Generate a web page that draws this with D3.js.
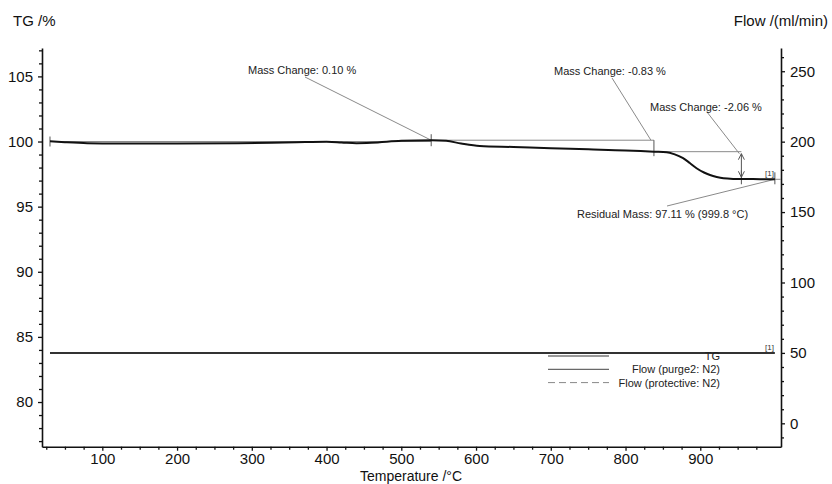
<!DOCTYPE html>
<html>
<head>
<meta charset="utf-8">
<script src="https://cdn.jsdelivr.net/npm/d3@7"></script>
<style>
  html, body { margin: 0; padding: 0; background: #fff; }
  svg { display: block; font-family: "Liberation Sans", Arial, sans-serif; }
</style>
</head>
<body>
<svg id="chart" width="832" height="484"></svg>
<script>
// ---------------- DATA ----------------
const tgTemperature = [30, 50, 80, 120, 200, 280, 360, 400, 420, 440, 460, 500, 540, 560, 580, 605, 650, 700, 750, 800, 838, 855, 865, 877, 886, 895, 905, 913, 922, 931, 945, 955, 980, 999.8];
const tgMass        = [100.02, 99.95, 99.87, 99.84, 99.85, 99.87, 99.95, 99.98, 99.93, 99.87, 99.9, 100.05, 100.1, 100.05, 99.85, 99.66, 99.58, 99.48, 99.4, 99.32, 99.22, 99.18, 99.03, 98.72, 98.35, 97.95, 97.62, 97.43, 97.28, 97.18, 97.13, 97.12, 97.11, 97.1];
const flowTemperature = [30, 999.8];
const flowPurge2 = [50, 50];

const xTickLabels = [100, 200, 300, 400, 500, 600, 700, 800, 900];
const tgTickLabels = [80, 85, 90, 95, 100, 105];
const flowTickLabels = [0, 50, 100, 150, 200, 250];

const legendLabels = ["TG", "Flow (purge2: N2)", "Flow (protective: N2)"];

// mass-change evaluation points (temperature, TG level)
const stepTemperatures = [30, 540, 838, 955];
const stepLevels = [100.0, 100.1, 99.22, 97.12];
const massChangeTexts = ["Mass Change: 0.10 %", "Mass Change: -0.83 %", "Mass Change: -2.06 %"];
const residualText = "Residual Mass: 97.11 % (999.8 °C)";
const residualPoint = [999.8, 97.1];

// ---------------- LAYOUT ----------------
const svg = d3.select("#chart");
const pLeft = 42, pRight = 781, pTop = 48, pBottom = 446.7;

const x = d3.scaleLinear().domain([19.3, 1008]).range([pLeft, pRight]);
const yL = d3.scaleLinear().domain([76.57, 107.18]).range([pBottom, pTop]);
const yR = d3.scaleLinear().domain([-16.6, 266.5]).range([pBottom, pTop]);

const fontSize = 15;
const axisColor = "#111";

function styleAxis(g) {
  g.selectAll(".domain").attr("stroke", axisColor).attr("stroke-width", 1.6);
  g.selectAll(".tick line").attr("stroke", axisColor).attr("stroke-width", 1.3);
  g.selectAll("text").attr("fill", "#111").style("font-size", fontSize + "px")
    .style("font-family", "'Liberation Sans', Arial, sans-serif");
}
function styleMinor(g) {
  g.select(".domain").remove();
  g.selectAll("line").attr("stroke", axisColor).attr("stroke-width", 1.3);
}

// bottom axis
const gx = svg.append("g").attr("transform", `translate(0,${pBottom})`)
  .call(d3.axisBottom(x).tickValues(xTickLabels).tickSize(4).tickPadding(3).tickSizeOuter(0));
styleAxis(gx);
svg.append("g").attr("transform", `translate(0,${pBottom})`)
  .call(d3.axisBottom(x).tickValues(d3.range(25, 1001, 25).filter(v => v % 100 !== 0))
    .tickSize(3).tickFormat("").tickSizeOuter(0))
  .call(styleMinor);

// left axis
const gl = svg.append("g").attr("transform", `translate(${pLeft},0)`)
  .call(d3.axisLeft(yL).tickValues(tgTickLabels).tickSize(4).tickPadding(5).tickSizeOuter(0));
styleAxis(gl);
svg.append("g").attr("transform", `translate(${pLeft},0)`)
  .call(d3.axisLeft(yL).tickValues(d3.range(77, 108).filter(v => v % 5 !== 0)).tickSize(3).tickFormat("").tickSizeOuter(0))
  .call(styleMinor);

// right axis
const gr = svg.append("g").attr("transform", `translate(${pRight},0)`)
  .call(d3.axisRight(yR).tickValues(flowTickLabels).tickSize(4).tickPadding(5).tickSizeOuter(0));
styleAxis(gr);
svg.append("g").attr("transform", `translate(${pRight},0)`)
  .call(d3.axisRight(yR).tickValues(d3.range(-10, 261, 10).filter(v => v % 50 !== 0)).tickSize(3).tickFormat("").tickSizeOuter(0))
  .call(styleMinor);

// axis titles
svg.append("text").attr("x", 13).attr("y", 26).text("TG /%")
  .style("font-size", fontSize + "px").attr("fill", "#111");
svg.append("text").attr("x", 828).attr("y", 26).attr("text-anchor", "end").text("Flow /(ml/min)")
  .style("font-size", fontSize + "px").attr("fill", "#111");
svg.append("text").attr("x", 411).attr("y", 481).attr("text-anchor", "middle").text("Temperature /°C")
  .style("font-size", "14px").attr("fill", "#111");

// ---------------- ANNOTATIONS ----------------
const annColor = "#8a8a8a";
const ann = svg.append("g").attr("stroke", annColor).attr("stroke-width", 1).attr("fill", "none");

// horizontal reference lines between evaluation points
for (let i = 0; i < stepTemperatures.length - 1; i++) {
  ann.append("line")
    .attr("x1", x(stepTemperatures[i])).attr("x2", x(stepTemperatures[i + 1]))
    .attr("y1", yL(stepLevels[i])).attr("y2", yL(stepLevels[i]));
}
// residual level line to the axis
ann.append("line")
  .attr("x1", x(stepTemperatures[3])).attr("x2", pRight)
  .attr("y1", yL(residualPoint[1])).attr("y2", yL(residualPoint[1]));

// vertical markers
const markerHalf = [5, 6, 8, 7];
stepTemperatures.forEach((t, i) => {
  const yc = i === 2 ? yL(stepLevels[2]) - 3.5 : (i === 3 ? yL(residualPoint[1]) - 2 : yL(stepLevels[i]));
  ann.append("line").attr("x1", x(t)).attr("x2", x(t))
    .attr("y1", yc - markerHalf[i]).attr("y2", yc + markerHalf[i]).attr("stroke", "#555");
});
ann.append("line").attr("x1", x(residualPoint[0])).attr("x2", x(residualPoint[0]))
  .attr("y1", yL(residualPoint[1]) - 7).attr("y2", yL(residualPoint[1]) + 5).attr("stroke", "#555");

// double arrow for the last mass change
{
  const ax = x(stepTemperatures[3]);
  const y1 = yL(stepLevels[2]) + 2, y2 = yL(residualPoint[1]) - 2;
  ann.append("line").attr("x1", ax).attr("x2", ax).attr("y1", y1).attr("y2", y2).attr("stroke", "#555");
  ann.append("path").attr("d", `M${ax - 3},${y1 + 6}L${ax},${y1}L${ax + 3},${y1 + 6}`).attr("stroke", "#555");
  ann.append("path").attr("d", `M${ax - 3},${y2 - 6}L${ax},${y2}L${ax + 3},${y2 - 6}`).attr("stroke", "#555");
}

// labels with leader lines (label placement in pixels)
const labelLayout = [
  { tx: 248, ty: 74, lx: 305, ly: 77, px: x(stepTemperatures[1]), py: yL(stepLevels[1]) },
  { tx: 554, ty: 75, lx: 612, ly: 78, px: x(stepTemperatures[2]) - 3, py: yL(stepLevels[1]) },
  { tx: 650, ty: 111, lx: 707, ly: 112, px: x(stepTemperatures[3]) - 2, py: yL(stepLevels[2]) + 2 }
];
massChangeTexts.forEach((t, i) => {
  const L = labelLayout[i];
  ann.append("line").attr("x1", L.lx).attr("y1", L.ly).attr("x2", L.px).attr("y2", L.py);
  svg.append("text").attr("x", L.tx).attr("y", L.ty).text(t)
    .style("font-size", "11px").attr("fill", "#222");
});
ann.append("line").attr("x1", 667).attr("y1", 206)
  .attr("x2", x(residualPoint[0])).attr("y2", yL(residualPoint[1]));
svg.append("text").attr("x", 577).attr("y", 218).text(residualText)
  .style("font-size", "11px").attr("fill", "#222");

// [1] labels
svg.append("text").attr("x", 765).attr("y", yL(residualPoint[1]) - 3).text("[1]")
  .style("font-size", "8px").attr("fill", "#333");
svg.append("text").attr("x", 765).attr("y", yR(flowPurge2[1]) - 3).text("[1]")
  .style("font-size", "8px").attr("fill", "#333");

// ---------------- SERIES ----------------
const tgLine = d3.line().x((d, i) => x(tgTemperature[i])).y(d => yL(d)).curve(d3.curveMonotoneX);
svg.append("path").attr("d", tgLine(tgMass)).attr("fill", "none").attr("stroke", "#111").attr("stroke-width", 2);

const flowLine = d3.line().x((d, i) => x(flowTemperature[i])).y(d => yR(d));
svg.append("path").attr("d", flowLine(flowPurge2)).attr("fill", "none").attr("stroke", "#333").attr("stroke-width", 2);

// ---------------- LEGEND ----------------
const legendStyles = [
  { stroke: "#9a9a9a", width: 2, dash: null },
  { stroke: "#444", width: 1, dash: null },
  { stroke: "#888", width: 1, dash: "7,4" }
];
const lg = svg.append("g");
legendLabels.forEach((lab, i) => {
  const yy = 356 + i * 13.3;
  lg.append("line").attr("x1", 548).attr("x2", 609).attr("y1", yy).attr("y2", yy)
    .attr("stroke", legendStyles[i].stroke).attr("stroke-width", legendStyles[i].width)
    .attr("stroke-dasharray", legendStyles[i].dash);
  lg.append("text").attr("x", 720).attr("y", yy + 4).attr("text-anchor", "end").text(lab)
    .style("font-size", "11px").attr("fill", "#222");
});
</script>
</body>
</html>
